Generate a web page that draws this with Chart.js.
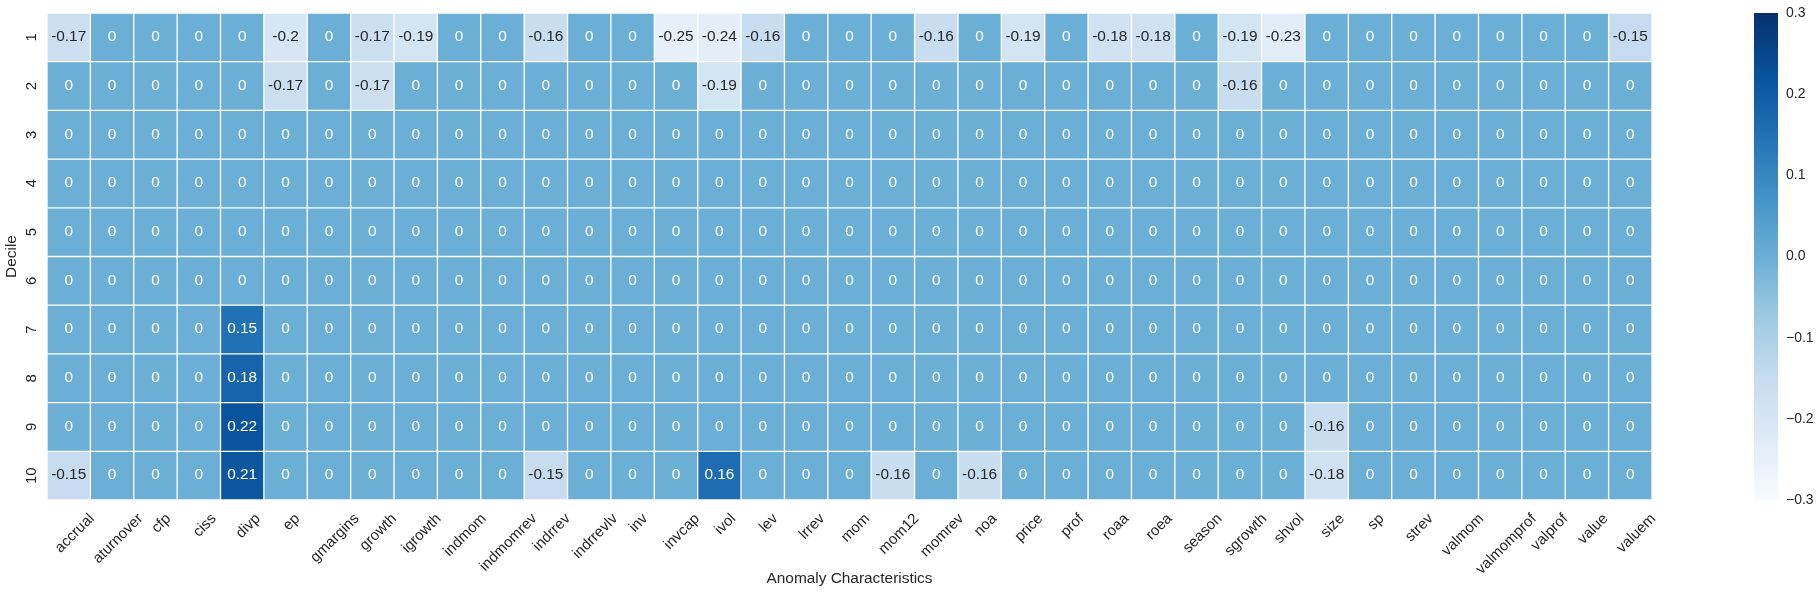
<!DOCTYPE html>
<html>
<head>
<meta charset="utf-8">
<script src="https://cdn.jsdelivr.net/npm/chart.js@4.4.0/dist/chart.umd.min.js"></script>
<style>
html,body{margin:0;padding:0;background:#ffffff;}
canvas{display:block;}
</style>
</head>
<body>
<canvas id="c" width="1819" height="595"></canvas>
<script>
// ---------- data ----------
const anomalies = ['accrual','aturnover','cfp','ciss','divp','ep','gmargins','growth','igrowth','indmom',
  'indmomrev','indrrev','indrrevlv','inv','invcap','ivol','lev','lrrev','mom','mom12',
  'momrev','noa','price','prof','roaa','roea','season','sgrowth','shvol','size',
  'sp','strev','valmom','valmomprof','valprof','value','valuem'];
const deciles = ['1','2','3','4','5','6','7','8','9','10'];

const d1  = [-0.17,0,0,0,0, -0.2,0,-0.17,-0.19,0, 0,-0.16,0,0,-0.25, -0.24,-0.16,0,0,0, -0.16,0,-0.19,0,-0.18, -0.18,0,-0.19,-0.23,0, 0,0,0,0,0, 0,-0.15];
const d2  = [0,0,0,0,0, -0.17,0,-0.17,0,0, 0,0,0,0,0, -0.19,0,0,0,0, 0,0,0,0,0, 0,0,-0.16,0,0, 0,0,0,0,0, 0,0];
const d3  = [0,0,0,0,0, 0,0,0,0,0, 0,0,0,0,0, 0,0,0,0,0, 0,0,0,0,0, 0,0,0,0,0, 0,0,0,0,0, 0,0];
const d4  = [0,0,0,0,0, 0,0,0,0,0, 0,0,0,0,0, 0,0,0,0,0, 0,0,0,0,0, 0,0,0,0,0, 0,0,0,0,0, 0,0];
const d5  = [0,0,0,0,0, 0,0,0,0,0, 0,0,0,0,0, 0,0,0,0,0, 0,0,0,0,0, 0,0,0,0,0, 0,0,0,0,0, 0,0];
const d6  = [0,0,0,0,0, 0,0,0,0,0, 0,0,0,0,0, 0,0,0,0,0, 0,0,0,0,0, 0,0,0,0,0, 0,0,0,0,0, 0,0];
const d7  = [0,0,0,0,0.15, 0,0,0,0,0, 0,0,0,0,0, 0,0,0,0,0, 0,0,0,0,0, 0,0,0,0,0, 0,0,0,0,0, 0,0];
const d8  = [0,0,0,0,0.18, 0,0,0,0,0, 0,0,0,0,0, 0,0,0,0,0, 0,0,0,0,0, 0,0,0,0,0, 0,0,0,0,0, 0,0];
const d9  = [0,0,0,0,0.22, 0,0,0,0,0, 0,0,0,0,0, 0,0,0,0,0, 0,0,0,0,0, 0,0,0,0,-0.16, 0,0,0,0,0, 0,0];
const d10 = [-0.15,0,0,0,0.21, 0,0,0,0,0, 0,-0.15,0,0,0, 0.16,0,0,0,-0.16, 0,-0.16,0,0,0, 0,0,0,0,-0.18, 0,0,0,0,0, 0,0];
const rows = [d1,d2,d3,d4,d5,d6,d7,d8,d9,d10];

const vmin = -0.3, vmax = 0.3;
const cbTicks = [-0.3,-0.2,-0.1,0,0.1,0.2,0.3];

// ---------- style ----------
const FONT = '"Liberation Sans", Arial, Helvetica, sans-serif';
const TXT = '#262626';
const ANNOT_SIZE = 15.4, TICK_SIZE = 15, CB_TICK_SIZE = 14, TITLE_SIZE = 15.4;
const blues = ['#f7fbff','#deebf7','#c6dbef','#9ecae1','#6baed6','#4292c6','#2171b5','#08519c','#08306b'];

function hexToRgb(h){ return [parseInt(h.slice(1,3),16),parseInt(h.slice(3,5),16),parseInt(h.slice(5,7),16)]; }
const bluesRgb = blues.map(hexToRgb);
function cmap(v){
  let t = (v - vmin) / (vmax - vmin);
  t = Math.max(0, Math.min(1, t));
  const p = t * (bluesRgb.length - 1);
  const i = Math.min(Math.floor(p), bluesRgb.length - 2);
  const f = p - i;
  const a = bluesRgb[i], b = bluesRgb[i+1];
  return [0,1,2].map(k => Math.round(a[k] + (b[k]-a[k])*f));
}
function rgbStr(c){ return 'rgb(' + c[0] + ',' + c[1] + ',' + c[2] + ')'; }
function lum(c){
  const l = c.map(x => { x /= 255; return x <= 0.03928 ? x/12.92 : Math.pow((x+0.055)/1.055, 2.4); });
  return 0.2126*l[0] + 0.7152*l[1] + 0.0722*l[2];
}

Chart.defaults.font.family = FONT;
Chart.defaults.color = TXT;

const datasets = rows.map((vals, r) => ({
  label: 'Decile ' + deciles[r],
  data: vals.map(() => [r, r + 1]),
  backgroundColor: vals.map(v => rgbStr(cmap(v))),
  borderColor: '#ffffff',
  borderWidth: 1,
  borderSkipped: false,
  barPercentage: 1,
  categoryPercentage: 1,
  grouped: false
}));

// annotations drawn on the bars' own positions
const annotPlugin = {
  id: 'annot',
  afterDatasetsDraw(chart){
    const ctx = chart.ctx;
    ctx.save();
    ctx.font = ANNOT_SIZE + 'px ' + FONT;
    ctx.textAlign = 'center';
    ctx.textBaseline = 'middle';
    rows.forEach((vals, r) => {
      const meta = chart.getDatasetMeta(r);
      meta.data.forEach((bar, j) => {
        const v = vals[j];
        const c = cmap(v);
        ctx.fillStyle = lum(c) > 0.408 ? TXT : '#ffffff';
        const p = bar.getCenterPoint();
        ctx.fillText(String(v), p.x, p.y - 0.5);
      });
    });
    ctx.restore();
  }
};

// colorbar gradient placed on the colorbar scale
const colorbarPlugin = {
  id: 'colorbar',
  afterDraw(chart){
    const s = chart.scales.cb;
    const ctx = chart.ctx;
    const yTop = s.getPixelForValue(vmax), yBot = s.getPixelForValue(vmin);
    const x0 = s.left + 102, w = 24;
    const g = ctx.createLinearGradient(0, yBot, 0, yTop);
    blues.forEach((c, i) => g.addColorStop(i/(blues.length-1), c));
    ctx.save();
    ctx.fillStyle = g;
    ctx.fillRect(x0, yTop, w, yBot - yTop);
    ctx.restore();
  }
};

// matplotlib-like centring of rotated x tick labels (applied only while drawing)
const xLabelShift = {
  id: 'xLabelShift',
  beforeDraw(chart){
    const s = chart.scales.x;
    const ctx = chart.ctx;
    ctx.save();
    ctx.font = TICK_SIZE + 'px ' + FONT;
    const shifts = anomalies.map(l => 0.354*ctx.measureText(l).width + 6);
    ctx.restore();
    const base = Object.getPrototypeOf(s).getPixelForTick;
    s.getPixelForTick = function(i){ const p = base.call(this, i); return p == null ? p : p + (shifts[i] || 0); };
    s._labelItems = null;
  },
  afterDraw(chart){
    delete chart.scales.x.getPixelForTick;
  }
};

new Chart(document.getElementById('c'), {
  type: 'bar',
  data: { labels: anomalies, datasets },
  options: {
    responsive: false,
    devicePixelRatio: 1,
    animation: false,
    layout: { padding: { top: 13, left: 0, right: 0, bottom: 0 } },
    plugins: { legend: { display: false }, tooltip: { enabled: false }, title: { display: false } },
    scales: {
      x: {
        type: 'category',
        offset: true,
        grid: { display: false, drawTicks: false },
        border: { display: false },
        ticks: { autoSkip: false, minRotation: 45, maxRotation: 45, padding: 10, color: TXT, font: { size: TICK_SIZE } },
        title: { display: true, text: 'Anomaly Characteristics', color: TXT, font: { size: TITLE_SIZE }, padding: { top: 0, bottom: 7 } },
        afterFit(s){ s.height = 95; s.paddingLeft = 0; s.paddingRight = 0; }
      },
      y: {
        type: 'linear',
        position: 'left',
        min: 0, max: 10,
        reverse: true,
        grid: { display: false, drawTicks: false },
        border: { display: false },
        afterBuildTicks(s){ s.ticks = deciles.map((d, i) => ({ value: i + 0.5 })); },
        ticks: {
          minRotation: 90, maxRotation: 90, crossAlign: 'center', padding: 7,
          color: TXT, font: { size: TICK_SIZE },
          callback: (v) => deciles[Math.round(v - 0.5)]
        },
        title: { display: true, text: 'Decile', color: TXT, font: { size: TITLE_SIZE }, padding: { top: 3, bottom: 0 } },
        afterFit(s){ s.width = 47; s.paddingTop = 0; s.paddingBottom = 0; }
      },
      cb: {
        type: 'linear',
        position: 'right',
        min: vmin, max: vmax,
        grid: { display: false, drawTicks: false },
        border: { display: false },
        afterBuildTicks(s){ s.ticks = cbTicks.map(v => ({ value: v })); },
        ticks: {
          padding: 134, color: TXT, font: { size: CB_TICK_SIZE },
          callback: (v) => { const t = Math.abs(v) < 1e-9 ? '0.0' : v.toFixed(1); return t.replace('-', '\u2212'); }
        },
        afterFit(s){ s.width = 167; s.paddingTop = 0; s.paddingBottom = 0; }
      }
    }
  },
  plugins: [annotPlugin, colorbarPlugin, xLabelShift]
});
</script>
</body>
</html>
